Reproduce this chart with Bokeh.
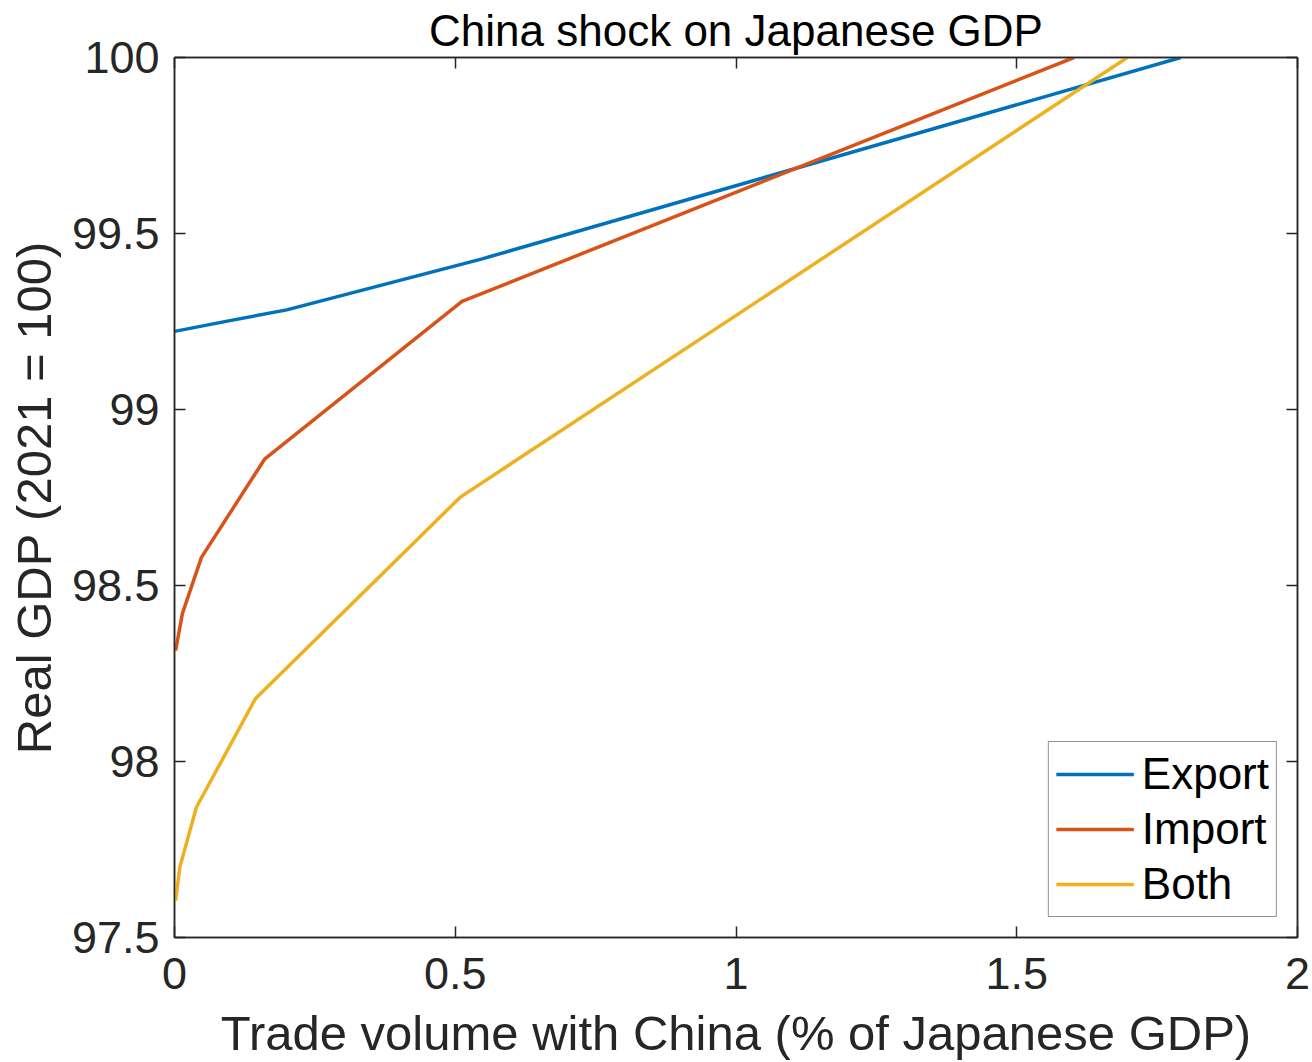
from bokeh.plotting import figure
from bokeh.models import Range1d, LinearAxis, FixedTicker
from bokeh.embed import file_html
from bokeh.resources import INLINE

# ---- data ----
export_x = [0.0, 0.094, 0.2, 0.548, 1.792]
export_y = [99.222, 99.251, 99.283, 99.428, 100.0]

import_x = [0.002, 0.014, 0.048, 0.161, 0.512, 1.602]
import_y = [98.315, 98.42, 98.58, 98.86, 99.307, 100.0]

both_x = [0.002, 0.0095, 0.039, 0.144, 0.509, 1.697]
both_y = [97.605, 97.70, 97.87, 98.178, 98.751, 100.0]

series_names = ["Export", "Import", "Both"]
x_ticks = [0, 0.5, 1, 1.5, 2]
x_tick_labels = ["0", "0.5", "1", "1.5", "2"]
y_ticks = [97.5, 98, 98.5, 99, 99.5, 100]
y_tick_labels = ["97.5", "98", "98.5", "99", "99.5", "100"]

title_text = "China shock on Japanese GDP"
x_label = "Trade volume with China (% of Japanese GDP)"
y_label = "Real GDP (2021 = 100)"

FONT = "Liberation Sans"
AXC = "#262626"

p = figure(width=1312, height=1062, output_backend="svg", toolbar_location=None,
           x_range=Range1d(0, 2), y_range=Range1d(97.5, 100),
           min_border_left=174, min_border_right=15, min_border_top=57,
           min_border_bottom=125, x_axis_label=x_label, y_axis_label=y_label)

p.title.text = title_text
p.title.align = "center"
p.title.text_font = FONT
p.title.text_font_size = "44px"
p.title.text_font_style = "normal"
p.title.text_color = "black"
p.title.standoff = 6

p.xgrid.visible = False
p.ygrid.visible = False
p.outline_line_color = AXC
p.outline_line_width = 1.5
p.background_fill_color = "white"
p.border_fill_color = "white"

def style_axis(ax, ticks, labels, show_labels=True):
    ax.ticker = FixedTicker(ticks=ticks)
    ax.major_tick_in = 11
    ax.major_tick_out = 0
    ax.minor_tick_in = 0
    ax.minor_tick_out = 0
    ax.axis_line_color = AXC
    ax.axis_line_width = 1.5
    ax.major_tick_line_color = AXC
    ax.major_tick_line_width = 1.5
    ax.major_label_text_font = FONT
    ax.major_label_text_color = AXC
    ax.axis_label_text_font = FONT
    ax.axis_label_text_font_style = "normal"
    ax.axis_label_text_color = AXC
    if show_labels:
        ax.major_label_overrides = {t: l for t, l in zip(ticks, labels)}
        ax.major_label_text_font_size = "45px"
        ax.axis_label_text_font_size = "49px"
    else:
        ax.major_label_overrides = {t: "" for t in ticks}
        ax.major_label_text_font_size = "10px"
        ax.major_label_standoff = 0
        ax.axis_label = None

style_axis(p.xaxis[0], x_ticks, x_tick_labels)
style_axis(p.yaxis[0], y_ticks, y_tick_labels)
p.xaxis[0].major_label_standoff = 20
p.xaxis[0].axis_label_standoff = 14
p.yaxis[0].major_label_standoff = 15
p.yaxis[0].axis_label_standoff = 8

top_ax = LinearAxis()
right_ax = LinearAxis()
style_axis(top_ax, x_ticks, x_tick_labels, show_labels=False)
style_axis(right_ax, y_ticks, y_tick_labels, show_labels=False)
p.add_layout(top_ax, "above")
p.add_layout(right_ax, "right")

colors = ["#0072BD", "#D95319", "#EDB120"]
for xs, ys, c, name in zip([export_x, import_x, both_x], [export_y, import_y, both_y],
                           colors, series_names):
    p.line(xs, ys, line_color=c, line_width=3.5, legend_label=name)

lg = p.legend[0]
lg.location = "bottom_right"
lg.margin = 20
lg.padding = 7
lg.spacing = 5
lg.label_height = 50
lg.glyph_height = 50
lg.glyph_width = 78
lg.label_standoff = 8
lg.label_text_font = FONT
lg.label_text_font_size = "44px"
lg.label_text_color = "black"
lg.border_line_color = AXC
lg.border_line_width = 1.5
lg.background_fill_color = "white"
lg.background_fill_alpha = 1.0

open("out.html", "w").write(file_html(p, INLINE))
